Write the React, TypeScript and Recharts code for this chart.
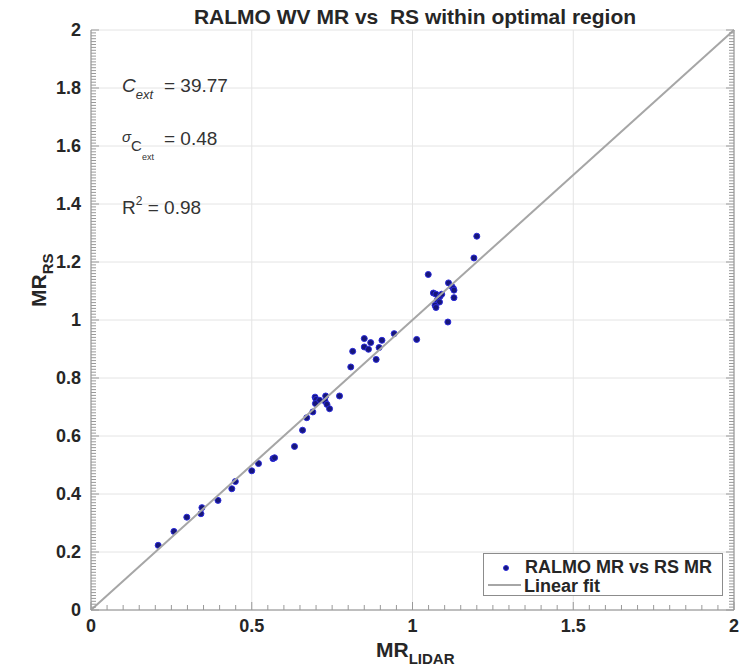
import { ScatterChart, Scatter, XAxis, YAxis, CartesianGrid, Legend } from "recharts";

// RALMO lidar vs radiosonde water vapour mixing ratio
const lidarMR = [
  0.209, 0.258, 0.298, 0.342, 0.345, 0.395, 0.438, 0.449, 0.5, 0.521,
  0.566, 0.571, 0.633, 0.658, 0.671, 0.69, 0.697, 0.7, 0.711, 0.698,
  0.728, 0.734, 0.742, 0.73, 0.773, 0.808, 0.814, 0.85, 0.863, 0.85,
  0.87, 0.887, 0.896, 0.905, 0.943, 1.013, 1.049, 1.065, 1.073, 1.086,
  1.091, 1.077, 1.084, 1.07, 1.073, 1.112, 1.122, 1.127, 1.129, 1.129,
  1.11, 1.191, 1.2,
];
const rsMR = [
  0.223, 0.271, 0.32, 0.332, 0.353, 0.378, 0.418, 0.443, 0.48, 0.505,
  0.522, 0.525, 0.564, 0.62, 0.663, 0.683, 0.734, 0.726, 0.723, 0.712,
  0.72, 0.709, 0.694, 0.738, 0.738, 0.838, 0.892, 0.907, 0.899, 0.936,
  0.922, 0.864, 0.905, 0.93, 0.953, 0.933, 1.157, 1.093, 1.089, 1.082,
  1.089, 1.068, 1.062, 1.051, 1.043, 1.128, 1.116, 1.109, 1.103, 1.077,
  0.993, 1.214, 1.289,
];

const fitX = [0, 2];
const fitY = [0, 2];

const xMajor = [0, 0.5, 1, 1.5, 2];
const xLabels = ["0", "0.5", "1", "1.5", "2"];
const yMajor = [0, 0.2, 0.4, 0.6, 0.8, 1, 1.2, 1.4, 1.6, 1.8, 2];
const yLabels = ["0", "0.2", "0.4", "0.6", "0.8", "1", "1.2", "1.4", "1.6", "1.8", "2"];

const FONT = '"Liberation Sans", Arial, sans-serif';
const FRAME = "#8c8c8c";
const TICK = "#999999";
const TEXT = "#262626";

const points = lidarMR.map((x, i) => ({ x, y: rsMR[i] }));
const fitData = fitX.map((x, i) => ({ x, y: fitY[i] }));

// minor tick positions between 0 and max
function steps(max: number, step: number) {
  const n = Math.round(max / step);
  return Array.from({ length: n + 1 }, (_, i) => +(i * step).toFixed(4));
}
const xTicks = steps(2, 0.05);
const yTicks = steps(2, 0.01);

const majorIndex = (list: number[], v: number) =>
  list.findIndex((m) => Math.abs(m - v) < 1e-6);

function BottomTick(props: any) {
  const { x, y, payload } = props;
  const i = majorIndex(xMajor, payload.value);
  return (
    <g>
      <path d={`M${x},${y}V${y - (i >= 0 ? 8 : 5)}`} style={{ stroke: TICK, strokeWidth: 1, fill: "none" }} />
      {i >= 0 && (
        <text x={x} y={y + 22} textAnchor="middle" fontFamily={FONT} fontWeight="bold" fontSize={18} fill={TEXT}>
          {xLabels[i]}
        </text>
      )}
    </g>
  );
}

function TopTick(props: any) {
  const { x, y, payload } = props;
  const i = majorIndex(xMajor, payload.value);
  return <path d={`M${x},${y}V${y + (i >= 0 ? 8 : 5)}`} style={{ stroke: TICK, strokeWidth: 1, fill: "none" }} />;
}

function LeftTick(props: any) {
  const { x, y, payload } = props;
  const i = majorIndex(yMajor, payload.value);
  return (
    <g>
      <path d={`M${x},${y}H${x + (i >= 0 ? 8 : 5)}`} style={{ stroke: TICK, strokeWidth: 1, fill: "none" }} />
      {i >= 0 && (
        <text x={x - 10} y={y + 6} textAnchor="end" fontFamily={FONT} fontWeight="bold" fontSize={18} fill={TEXT}>
          {yLabels[i]}
        </text>
      )}
    </g>
  );
}

function RightTick(props: any) {
  const { x, y, payload } = props;
  const i = majorIndex(yMajor, payload.value);
  return <path d={`M${x},${y}H${x - (i >= 0 ? 8 : 5)}`} style={{ stroke: TICK, strokeWidth: 1, fill: "none" }} />;
}

function Dot({ cx, cy }: any) {
  return <circle cx={cx} cy={cy} r={3} fill="#16167a" stroke="#2b2bd9" strokeWidth={1} />;
}

function LegendBox() {
  return (
    <div
      style={{
        width: 240,
        height: 43,
        boxSizing: "border-box",
        border: `1px solid ${FRAME}`,
        background: "#fff",
        fontFamily: FONT,
        fontWeight: "bold",
        fontSize: 18,
        color: TEXT,
        position: "relative",
      }}
    >
      <svg width={40} height={43} style={{ position: "absolute", left: 0, top: 0 }}>
        <circle cx={22} cy={14} r={2.5} fill="#16167a" stroke="#2b2bd9" strokeWidth={1} />
        <line x1={4} x2={37} y1={31} y2={31} stroke="#a6a6a6" strokeWidth={2} />
      </svg>
      <div style={{ position: "absolute", left: 41, top: 4, height: 18, lineHeight: "18px", whiteSpace: "nowrap" }}>
        RALMO MR vs RS MR
      </div>
      <div style={{ position: "absolute", left: 40, top: 23, height: 18, lineHeight: "18px", whiteSpace: "nowrap" }}>
        Linear fit
      </div>
    </div>
  );
}

export default function App() {
  return (
    <div style={{ position: "absolute", left: 0, top: 0, width: 740, height: 667, background: "#fff" }}>
      <ScatterChart width={740} height={667} margin={{ top: 30, right: 0, bottom: 0, left: 0 }}>
        <CartesianGrid
          xAxisId="bottom"
          yAxisId="left"
          stroke="#e4e4e4"
          verticalValues={xMajor}
          horizontalValues={yMajor}
        />
        <XAxis
          xAxisId="bottom"
          type="number"
          dataKey="x"
          domain={[0, 2]}
          ticks={xTicks}
          interval={0}
          height={57}
          tickSize={0}
          tickMargin={0}
          tickLine={false}
          axisLine={{ stroke: FRAME }}
          tick={BottomTick}
        />
        <XAxis
          xAxisId="top"
          orientation="top"
          type="number"
          dataKey="x"
          domain={[0, 2]}
          ticks={xTicks}
          interval={0}
          height={0}
          tickSize={0}
          tickMargin={0}
          tickLine={false}
          axisLine={{ stroke: FRAME }}
          tick={TopTick}
        />
        <YAxis
          yAxisId="left"
          type="number"
          dataKey="y"
          domain={[0, 2]}
          ticks={yTicks}
          interval={0}
          width={91}
          tickSize={0}
          tickMargin={0}
          tickLine={false}
          axisLine={{ stroke: FRAME }}
          tick={LeftTick}
        />
        <YAxis
          yAxisId="right"
          orientation="right"
          type="number"
          dataKey="y"
          domain={[0, 2]}
          ticks={yTicks}
          interval={0}
          width={6}
          tickSize={0}
          tickMargin={0}
          tickLine={false}
          axisLine={{ stroke: FRAME }}
          tick={RightTick}
        />
        <Scatter
          name="RALMO MR vs RS MR"
          data={points}
          xAxisId="bottom"
          yAxisId="left"
          shape={<Dot />}
          isAnimationActive={false}
        />
        <Scatter
          name="Linear fit"
          data={fitData}
          xAxisId="top"
          yAxisId="right"
          line={{ stroke: "#a6a6a6", strokeWidth: 2 }}
          shape={() => <g />}
          isAnimationActive={false}
        />
        <Legend
          layout="vertical"
          align="center"
          verticalAlign="middle"
          content={<LegendBox />}
          wrapperStyle={{ left: 483, top: 553, width: 240, height: 43 }}
        />
      </ScatterChart>

      <svg
        width={740}
        height={667}
        style={{ position: "absolute", left: 0, top: 0, pointerEvents: "none" }}
        fontFamily={FONT}
      >
        <text x={415} y={24} textAnchor="middle" fontWeight="bold" fontSize={21} fill={TEXT} style={{ whiteSpace: "pre" }}>
          RALMO WV MR vs  RS within optimal region
        </text>

        <text x={376} y={657} fontWeight="bold" fontSize={21} fill={TEXT}>
          MR
          <tspan fontSize={15} dy={7}>LIDAR</tspan>
        </text>
        <text transform="translate(46, 307) rotate(-90)" fontWeight="bold" fontSize={21} fill={TEXT}>
          MR
          <tspan fontSize={15} dy={7}>RS</tspan>
        </text>

        <g fill="#333" fontSize={19}>
          <text x={122} y={92}>
            <tspan fontStyle="italic">C</tspan>
            <tspan fontStyle="italic" fontSize={13} dy={7}>ext</tspan>
          </text>
          <text x={164} y={92}>= 39.77</text>

          <text x={122} y={142}>
            <tspan fontStyle="italic" fontSize={15}>σ</tspan>
            <tspan fontSize={15} dy={9}>C</tspan>
            <tspan fontSize={9} dy={9}>ext</tspan>
          </text>
          <text x={164} y={145}>= 0.48</text>

          <text x={122} y={214}>
            R<tspan fontSize={12} dy={-9}>2</tspan>
            <tspan dy={9}> = 0.98</tspan>
          </text>
        </g>
      </svg>
    </div>
  );
}
